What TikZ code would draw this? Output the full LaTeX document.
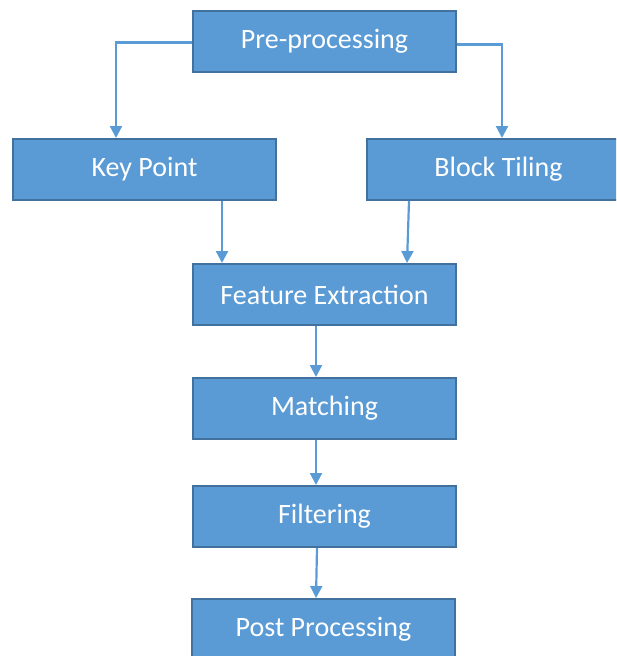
\documentclass[tikz,border=0pt]{standalone}
\usepackage{fontspec}
\setmainfont{Carlito}
\usetikzlibrary{arrows.meta}
\definecolor{boxfill}{HTML}{5B9BD5}
\definecolor{boxline}{HTML}{41719C}
\definecolor{arrowc}{HTML}{5B9BD5}
\begin{document}
\begin{tikzpicture}[x=1pt,y=-1pt,
  stage/.style={draw=boxline, line width=2pt, fill=boxfill, minimum width=263pt, minimum height=61pt,
    inner sep=0pt, text=white, font=\fontsize{28}{33}\selectfont, anchor=north west},
  flow/.style={draw=arrowc, line width=2.2pt, -{Triangle[width=12pt,length=12pt]}}]
\useasboundingbox (0,0) rectangle (616,656);
\begin{scope}
\clip (0,0) rectangle (616,656);
\node[stage] (pre) at (192,10) {Pre-processing};
\node[stage] (kp) at (12,138) {Key Point};
\node[stage] (bt) at (366,138) {Block Tiling};
\node[stage] (fe) at (192,263) {Feature Extraction};
\node[stage] (ma) at (192,377) {Matching};
\node[stage] (fi) at (192,485) {Filtering};
\node[stage] (pp) at (191,598) {Post Processing};
\end{scope}
\draw[flow] ([yshift=-1pt]pre.west) -| ([xshift=104pt]kp.north west);
\draw[flow] ([yshift=-3pt]pre.east) -| ([xshift=136pt]bt.north west);
\draw[flow] ([xshift=210pt]kp.south west) -- ([xshift=30pt]fe.north west);
\draw[flow] ([xshift=43pt]bt.south west) -- ([xshift=215pt]fe.north west);
\draw[flow] ([xshift=124pt]fe.south west) -- ([xshift=124pt]ma.north west);
\draw[flow] ([xshift=124pt]ma.south west) -- ([xshift=124pt]fi.north west);
\draw[flow] ([xshift=125pt]fi.south west) -- ([xshift=125pt]pp.north west);
\end{tikzpicture}
\end{document}
